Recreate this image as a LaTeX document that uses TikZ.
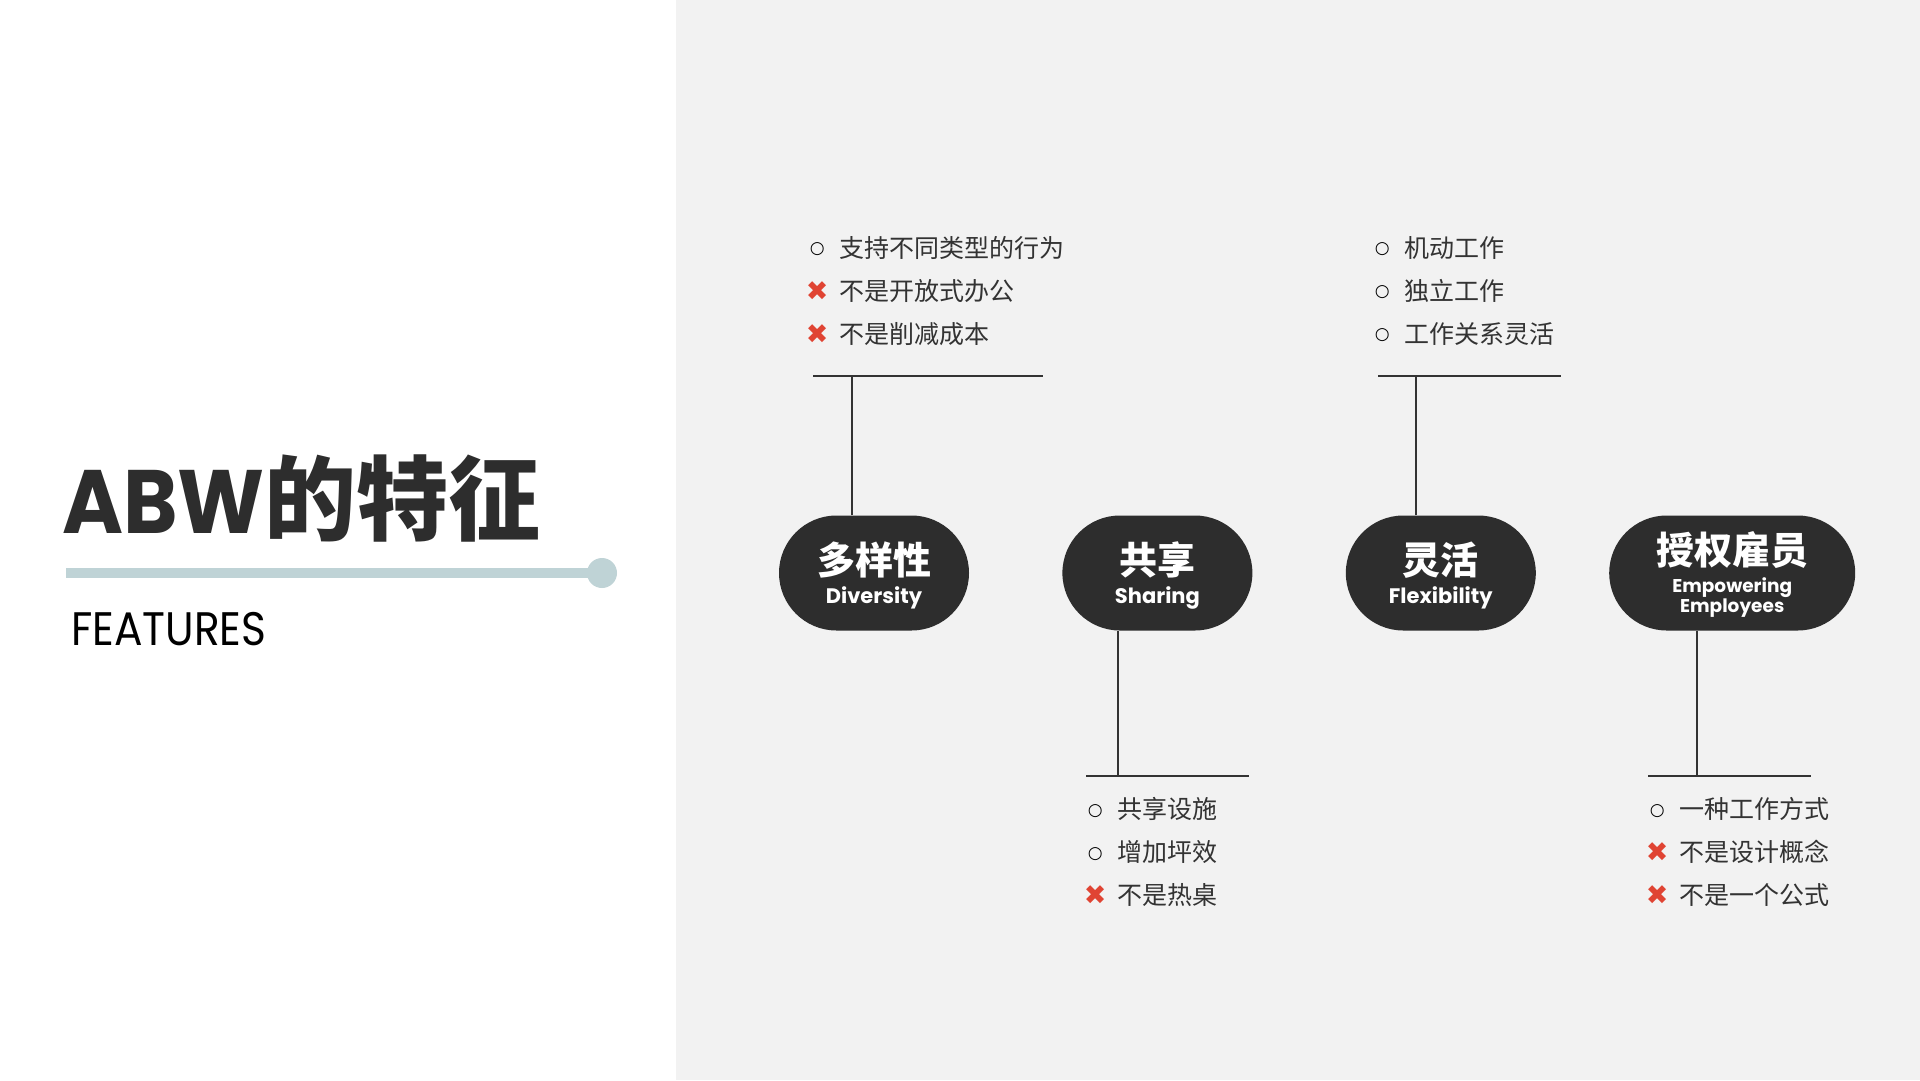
\documentclass[tikz,border=0pt]{standalone}
\usepackage{fontspec}
\usepackage{xcolor}
\usepackage{graphicx}
\usepackage{tikz}
\usetikzlibrary{positioning,shapes.misc}

\setmainfont{Poppins}
\newfontfamily\cjk{Noto Sans CJK SC}
\newfontfamily\sym{DejaVu Sans}

\definecolor{panelgray}{HTML}{F2F2F2}
\definecolor{inkdark}{HTML}{2D2D2D}
\definecolor{textgray}{HTML}{333333}
\definecolor{accentblue}{HTML}{BFD3D6}
\definecolor{crossred}{HTML}{E04433}

\newcommand\pillcn[2][38pt]{{\rule{0pt}{#1}\cjk\bfseries\fontsize{38}{38}\selectfont #2}}
\newcommand\pillen[1]{{\bfseries\fontsize{21}{21}\selectfont #1}}
\newcommand\pillsm[1]{{\bfseries\fontsize{18.5}{18.5}\selectfont #1}}
\newcommand\okmark{\makebox[0pt][c]{\raisebox{3.5pt}{\color{black}\sym\bfseries\fontsize{17}{17}\selectfont ○}}\hspace{22pt}}
\newcommand\nomark{\makebox[0pt][c]{\raisebox{0pt}{\color{crossred}\sym\fontsize{27}{27}\selectfont ✖}}\hspace{22pt}}

\begin{document}
\begin{tikzpicture}[
            x=1pt, y=-1pt,
            pill/.style={rounded rectangle, fill=inkdark, text=white, minimum width=190pt, minimum height=115pt, inner sep=0pt, align=center, font=\fontsize{21}{29}\selectfont},
            list/.style={anchor=west, inner sep=0pt, align=left, text=textgray, font=\cjk\fontsize{25}{43}\selectfont},
            stem/.style={draw=textgray, line width=2pt}
        ]
        \useasboundingbox (0,0) rectangle (1920,1080);
        \fill[white] (0,0) rectangle (1920,1080);
        \fill[panelgray] (676,0) rectangle (1920,1080);

        % Title
        \node[anchor=base west, inner sep=0pt, text=inkdark] (title) at (62,533)
            {{\bfseries\fontsize{90}{90}\selectfont\scalebox{0.92}[1]{ABW}}{\cjk\bfseries\fontsize{92}{92}\selectfont 的特征}};
        \coordinate (railend) at (602,573);
        \draw[accentblue, line width=10pt] (66,573) -- (railend);
        \fill[accentblue] (railend) circle (15);
        \node[anchor=base west, inner sep=0pt, text=black, font=\fontsize{47}{47}\selectfont] (sub) at (71,645) {\scalebox{0.9}[1]{FEATURES}};

        % Pills
        \node[pill] (div) at (874,573) {\pillcn{多样性}\\\pillen{Diversity}};
        \node[pill, right=93pt of div] (share) {\pillcn{共享}\\\pillen{Sharing}};
        \node[pill, right=93pt of share] (flex) {\pillcn{灵活}\\\pillen{Flexibility}};
        \node[pill, minimum width=246pt, right=73pt of flex] (emp) {\pillcn[35pt]{授权雇员}\\[-0.5pt]\pillsm{Empowering}\\[-9.5pt]\pillsm{Employees}};

        % Lists
        \node[list] (divlist) at (817,291) {\okmark 支持不同类型的行为\\\nomark 不是开放式办公\\\nomark 不是削减成本};
        \node[list] (sharelist) at (1095,852) {\okmark 共享设施\\\okmark 增加坪效\\\nomark 不是热桌};
        \node[list] (flexlist) at (1382,291) {\okmark 机动工作\\\okmark 独立工作\\\okmark 工作关系灵活};
        \node[list] (emplist) at (1657,852) {\okmark 一种工作方式\\\nomark 不是设计概念\\\nomark 不是一个公式};

        % Bars
        \coordinate (divbar) at (852,376);
        \coordinate (sharebar) at (1118,776);
        \coordinate (flexbar) at (1416,376);
        \coordinate (empbar) at (1697,776);
        \draw[stem] (813,376) -- (1043,376);
        \draw[stem] (1086,776) -- (1249,776);
        \draw[stem] (1378,376) -- (1561,376);
        \draw[stem] (1648,776) -- (1811,776);

        % Stems
        \draw[stem] (div.north -| divbar) -- (divbar);
        \draw[stem] (share.south -| sharebar) -- (sharebar);
        \draw[stem] (flex.north -| flexbar) -- (flexbar);
        \draw[stem] (emp.south -| empbar) -- (empbar);

        \end{tikzpicture}
\end{document}
